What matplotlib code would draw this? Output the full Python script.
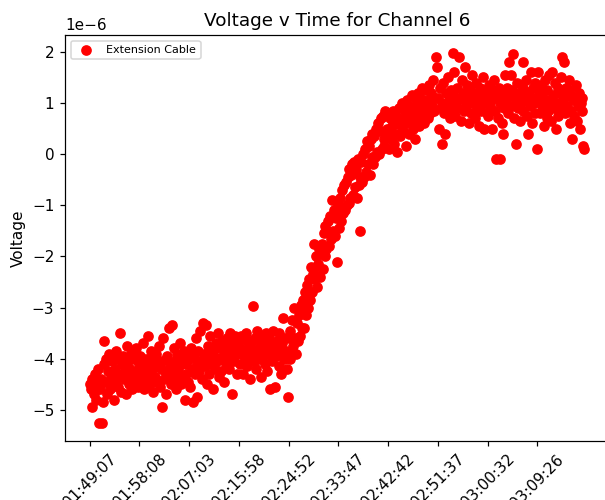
import matplotlib
matplotlib.use('Agg')
import matplotlib.pyplot as plt

# voltage readings in microvolts, one reading per sample
seg0 = [-4.5, -4.6, -4.4, -4.95, -4.45, -4.7, -4.3, -4.8, -4.55, -4.2,
        -5.25, -4.6, -4.4, -5.25, -4.85, -4.1, -3.65, -4.45, -4.0, -4.7,
        -4.25, -3.9, -4.6, -4.35, -4.05, -4.5, -4.8, -4.2, -3.85, -4.4,
        -4.0, -4.55, -4.3, -3.5, -4.65, -4.1, -3.95, -4.4, -4.25, -4.7,
        -3.75, -4.35, -4.05, -4.5, -4.2, -3.9, -4.6, -4.3, -4.0, -4.45,
        -3.8, -4.25, -4.55, -4.1]
seg1 = [-4.3, -3.95, -4.45, -4.15, -3.7, -4.6, -4.25, -4.0, -4.4, -3.55,
        -4.1, -4.5, -4.3, -3.85, -4.2, -4.65, -4.0, -4.35, -3.9, -4.45,
        -4.15, -3.75, -4.55, -4.2, -4.95, -4.05, -3.6, -4.4, -4.25, -4.7,
        -3.95, -4.3, -3.4, -4.1, -4.5, -3.35, -4.2, -3.8, -4.4, -4.05,
        -4.6, -3.9, -4.25, -4.15, -3.7, -4.5, -4.0, -4.35, -3.85, -4.8,
        -4.1, -4.3, -3.95, -4.45]
seg2 = [-4.0, -4.55, -3.8, -4.2, -4.85, -3.95, -4.3, -3.6, -4.1, -4.75,
        -3.85, -4.25, -3.45, -4.05, -4.4, -3.3, -3.9, -4.15, -3.35, -4.5,
        -3.75, -4.0, -4.3, -3.55, -4.1, -3.85, -4.6, -3.95, -4.2, -3.7,
        -4.05, -3.5, -4.35, -3.8, -4.0, -4.25, -3.65, -3.95, -4.45, -3.75,
        -4.1, -3.6, -3.9, -4.2, -3.5, -4.0, -3.85, -4.7, -3.7, -4.05,
        -3.55, -3.9, -4.3, -3.8]
seg3 = [-3.7, -4.1, -3.55, -3.9, -4.3, -3.6, -3.85, -4.0, -3.5, -4.15,
        -3.75, -3.95, -4.4, -3.65, -3.8, -2.97, -4.05, -3.6, -3.9, -4.2,
        -3.45, -3.85, -4.0, -3.7, -4.35, -3.55, -3.95, -3.8, -4.1, -3.5,
        -4.25, -3.7, -3.9, -3.6, -4.6, -3.85, -4.05, -3.45, -3.75, -4.55,
        -3.95, -3.65, -3.8, -4.15, -3.5, -3.9, -4.3, -3.7, -3.2, -4.0,
        -3.6, -3.85, -4.2, -4.75]
seg4 = [-3.6, -4.0, -3.45, -3.85, -3.25, -3.75, -3.0, -3.6, -3.9, -3.3,
        -3.65, -3.15, -3.55, -2.95, -3.4, -3.05, -2.85, -3.4, -2.7, -3.15,
        -2.55, -3.0, -2.45, -2.85, -2.2, -2.7, -2.35, -2.3, -1.75, -2.45,
        -2.0, -2.6, -2.15, -1.85, -2.4, -1.95, -1.75, -2.25, -1.55, -2.0,
        -1.4, -1.85, -1.5, -1.3, -1.8, -1.2, -1.65, -0.9, -1.5, -1.1,
        -1.6, -1.25, -2.1, -1.15]
seg5 = [-1.0, -1.45, -0.85, -1.3, -0.7, -1.15, -0.6, -1.1, -0.55, -1.0,
        -0.45, -0.95, -0.3, -0.85, -0.4, -0.2, -0.8, -0.15, -0.65, -0.3,
        -0.85, -0.1, -0.6, -0.45, -1.5, -0.15, -0.55, 0.0, -0.45, 0.1,
        -0.35, 0.25, -0.2, 0.15, -0.4, 0.3, -0.05, 0.4, -0.2, 0.35,
        -0.05, 0.5, 0.05, 0.6, 0.0, 0.45, 0.7, 0.1, 0.75, 0.3,
        0.15, 0.85, 0.35, 0.5]
seg6 = [0.45, 0.1, 0.7, 0.3, 0.55, 0.85, 0.2, 0.6, 0.4, 0.75,
        0.05, 0.65, 0.9, 0.35, 0.55, 1.0, 0.45, 0.7, 0.85, 0.15,
        0.6, 1.05, 0.75, 0.4, 0.9, 0.65, 1.15, 0.5, 0.8, 0.3,
        1.0, 0.7, 1.2, 0.85, 0.55, 1.1, 0.95, 1.3, 0.75, 0.6,
        1.25, 0.9, 1.05, 0.7, 1.35, 1.0, 0.8, 1.2, 0.95, 1.45,
        0.85, 1.1, 1.9, 1.7]
seg7 = [1.1, 0.5, 1.3, 0.9, 1.0, 0.2, 1.4, 0.8, 0.4, 1.2,
        0.95, 1.5, 1.05, 0.7, 1.25, 0.85, 1.97, 1.15, 1.6, 0.75,
        1.0, 1.3, 0.9, 1.9, 1.1, 0.65, 1.45, 1.2, 0.85, 1.05,
        1.7, 0.95, 1.35, 1.1, 0.6, 1.25, 0.8, 1.55, 1.0, 1.15,
        0.7, 1.4, 0.9, 1.2, 1.05, 0.55, 1.3, 0.85, 1.1, 1.5,
        0.5, 1.0, 1.25, 0.8]
seg8 = [1.15, 0.75, 1.35, 0.95, 1.05, 0.5, 1.25, 1.45, 0.85, -0.1,
        1.1, 0.7, 1.3, 1.0, -0.1, 1.2, 0.6, 0.4, 0.9, 1.55,
        1.05, 1.3, 0.8, 1.8, 1.15, 1.55, 0.95, 1.25, 1.95, 0.7,
        1.1, 0.2, 1.4, 0.9, 1.2, 0.65, 1.0, 1.35, 1.8, 0.85,
        1.25, 1.05, 1.45, 0.75, 0.4, 1.15, 0.95, 1.6, 0.6, 1.3,
        1.0, 0.8, 1.4, 1.1]
seg9 = [0.1, 1.6, 1.2, 0.8, 1.35, 0.95, 1.1, 0.55, 1.45, 1.0,
        0.7, 1.25, 0.85, 1.55, 1.05, 0.65, 1.6, 1.15, 0.9, 1.4,
        0.5, 1.0, 1.3, 0.75, 1.2, 0.9, 1.5, 1.9, 1.05, 1.8,
        0.8, 1.3, 0.95, 1.15, 1.45, 0.6, 1.25, 0.85, 0.3, 1.05,
        0.75, 1.1, 1.35, 0.65, 0.95, 1.2, 0.5, 1.0, 0.85, 1.1,
        0.15, 0.1]

tick_labels = ['01:49:07', '01:58:08', '02:07:03', '02:15:58', '02:24:52',
               '02:33:47', '02:42:42', '02:51:37', '03:00:32', '03:09:26']
tick_step = 54  # one time label every 54 samples

microvolts = seg0 + seg1 + seg2 + seg3 + seg4 + seg5 + seg6 + seg7 + seg8 + seg9
voltage = [v * 1e-6 for v in microvolts]  # back to volts
samples = [x for x in range(len(voltage))]

fig = plt.figure(figsize=(605 / 110, 500 / 110), dpi=110)
ax = fig.add_axes([65 / 605, 59 / 500, 544 / 605, 406 / 500])  # right edge runs off the image
ax.scatter(samples, voltage, color='red', label='Extension Cable')
ax.set_xticks([x * tick_step for x in range(len(tick_labels))])
ax.set_xticklabels(tick_labels, rotation=45)
ax.set_ylabel('Voltage')
ax.set_title('Voltage v Time for Channel 6')
ax.legend(loc='upper left', fontsize=7.3)

fig.savefig('out.png', dpi=110)
